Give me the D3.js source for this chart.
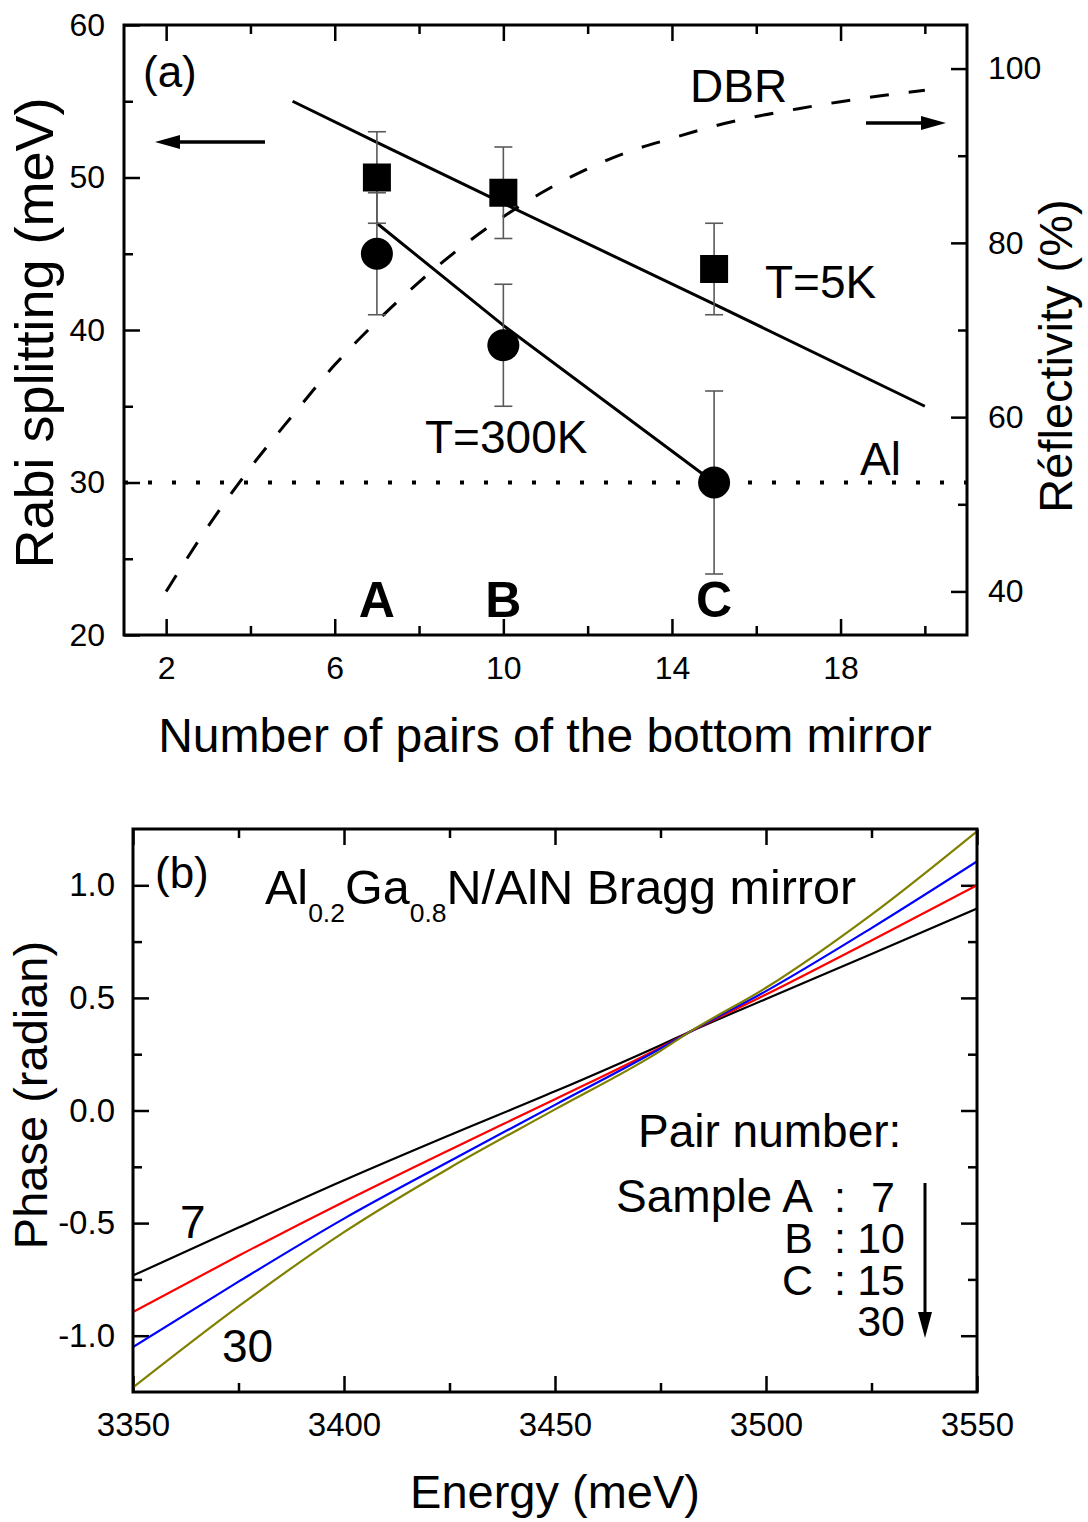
<!DOCTYPE html>
<html><head><meta charset="utf-8">
<script src="https://cdn.jsdelivr.net/npm/d3@7"></script>
<style>
body{margin:0;background:#fff}
svg{display:block}
text{font-family:"Liberation Sans",Arial,Helvetica,sans-serif;fill:#000}
</style>
</head><body>
<svg id="c" width="1088" height="1522"></svg>
<script>
// ---------- Panel (a) data ----------
const pairsTicks = [2, 6, 10, 14, 18];
const pairsMinor = [4, 8, 12, 16, 20];
const rabiTicks = [20, 30, 40, 50, 60];
const rabiMinor = [25, 35, 45, 55];
const reflTicks = [40, 60, 80, 100];
const reflMinor = [50, 70, 90];
const samples = ["A", "B", "C"];
const samplePairs = [7, 10, 15];
const rabi5K = [50, 49, 44];
const rabi5KErr = [3, 3, 3];
const rabi300K = [45, 39, 30];
const rabi300KErr = [4, 4, 6];
const fit5KPairs = [5, 7, 10, 15, 20];
const fit5K = [55, 52.3, 48.3, 41.7, 35];
const fit300KPairs = [7, 10, 15];
const fit300K = [47, 40.3, 30];
const dbrPairs = [2, 3, 4, 5, 6, 7, 8, 9, 10, 11, 12, 13, 14, 15, 16, 17, 18, 19, 20];
const dbrRefl = [40, 47.5, 54.2, 60.2, 66, 71, 75.5, 79.5, 83, 86, 88.5, 90.5, 92, 93.4, 94.5, 95.4, 96.2, 96.9, 97.5];
const alRabi = 30;

// ---------- Panel (b) data ----------
const energyTicks = [3350, 3400, 3450, 3500, 3550];
const energyMinor = [3375, 3425, 3475, 3525];
const phaseTicks = [-1, -0.5, 0, 0.5, 1];
const phaseMinor = [-0.75, -0.25, 0.25, 0.75];
const energy = [3350, 3375, 3400, 3425, 3450, 3475, 3482, 3500, 3525, 3550];
const phase7 = [-0.733, -0.52, -0.31, -0.11, 0.085, 0.29, 0.35, 0.495, 0.695, 0.897];
const phase10 = [-0.895, -0.645, -0.405, -0.175, 0.05, 0.28, 0.35, 0.515, 0.755, 1.0];
const phase15 = [-1.05, -0.76, -0.48, -0.225, 0.025, 0.275, 0.35, 0.53, 0.81, 1.106];
const phase30 = [-1.23, -0.87, -0.54, -0.255, 0.005, 0.265, 0.35, 0.545, 0.87, 1.24];
const pairNumbers = [7, 10, 15, 30];
const phaseColors = ["#000000", "#ff0000", "#0000ff", "#808000"];

const svg = d3.select("#c");

function styleAxis(g, fs) {
  g.select(".domain").remove();
  g.selectAll(".tick line").attr("stroke", "#000").attr("stroke-width", 2.5);
  g.selectAll(".tick text").style("font-size", fs + "px").attr("fill", "#000");
}
function arrowH(x1, x2, y) {
  const dir = Math.sign(x2 - x1);
  svg.append("line").attr("x1", x1).attr("x2", x2 - dir * 18).attr("y1", y).attr("y2", y)
    .attr("stroke", "#000").attr("stroke-width", 3.5);
  svg.append("path").attr("d", `M${x2},${y} L${x2 - dir * 25},${y - 7} L${x2 - dir * 25},${y + 7} Z`).attr("fill", "#000");
}

// =============== Panel (a) ===============
const A = {l: 124, r: 967, t: 25, b: 635};
const xP = d3.scaleLinear().domain([1, 21]).range([A.l, A.r]);
const yR = d3.scaleLinear().domain([20, 60]).range([A.b, A.t]);
const yF = d3.scaleLinear().domain([35, 105]).range([A.b, A.t]);
const MAJ = 16, MIN = 9;
const TFA = 32, TFB = 33;

const ga = svg.append("g");
ga.append("g").attr("transform", `translate(0,${A.b})`)
  .call(d3.axisBottom(xP).tickValues(pairsTicks).tickSize(-MAJ).tickPadding(21).tickFormat(d3.format("d")))
  .call(g => styleAxis(g, TFA));
ga.append("g").attr("transform", `translate(0,${A.b})`)
  .call(d3.axisBottom(xP).tickValues(pairsMinor).tickSize(-MIN).tickFormat(""))
  .call(g => styleAxis(g, TFA));
ga.append("g").attr("transform", `translate(0,${A.t})`)
  .call(d3.axisTop(xP).tickValues(pairsTicks).tickSize(-MAJ).tickFormat(""))
  .call(g => styleAxis(g, TFA));
ga.append("g").attr("transform", `translate(0,${A.t})`)
  .call(d3.axisTop(xP).tickValues(pairsMinor).tickSize(-MIN).tickFormat(""))
  .call(g => styleAxis(g, TFA));
ga.append("g").attr("transform", `translate(${A.l},0)`)
  .call(d3.axisLeft(yR).tickValues(rabiTicks).tickSize(-MAJ).tickPadding(19).tickFormat(d3.format("d")))
  .call(g => styleAxis(g, TFA));
ga.append("g").attr("transform", `translate(${A.l},0)`)
  .call(d3.axisLeft(yR).tickValues(rabiMinor).tickSize(-MIN).tickFormat(""))
  .call(g => styleAxis(g, TFA));
ga.append("g").attr("transform", `translate(${A.r},0)`)
  .call(d3.axisRight(yF).tickValues(reflTicks).tickSize(-MAJ).tickPadding(21).tickFormat(d3.format("d")))
  .call(g => styleAxis(g, TFA));
ga.append("g").attr("transform", `translate(${A.r},0)`)
  .call(d3.axisRight(yF).tickValues(reflMinor).tickSize(-MIN).tickFormat(""))
  .call(g => styleAxis(g, TFA));
ga.append("rect").attr("x", A.l).attr("y", A.t).attr("width", A.r - A.l).attr("height", A.b - A.t)
  .attr("fill", "none").attr("stroke", "#000").attr("stroke-width", 3);

// Al dotted line
ga.append("line").attr("x1", A.l).attr("x2", A.r).attr("y1", yR(alRabi)).attr("y2", yR(alRabi))
  .attr("stroke", "#000").attr("stroke-width", 4).attr("stroke-dasharray", "4 20");

// DBR dashed
ga.append("path").datum(dbrPairs.map((p, i) => [p, dbrRefl[i]]))
  .attr("d", d3.line().x(d => xP(d[0])).y(d => yF(d[1])).curve(d3.curveMonotoneX))
  .attr("fill", "none").attr("stroke", "#000").attr("stroke-width", 3).attr("stroke-dasharray", "19 20");

// fit lines
ga.append("path").datum(fit5KPairs.map((p, i) => [p, fit5K[i]]))
  .attr("d", d3.line().x(d => xP(d[0])).y(d => yR(d[1])))
  .attr("fill", "none").attr("stroke", "#000").attr("stroke-width", 3);
ga.append("path").datum(fit300KPairs.map((p, i) => [p, fit300K[i]]))
  .attr("d", d3.line().x(d => xP(d[0])).y(d => yR(d[1])))
  .attr("fill", "none").attr("stroke", "#000").attr("stroke-width", 3);

// error bars
function errBars(vals, errs) {
  samplePairs.forEach((p, i) => {
    const x = xP(p), lo = yR(vals[i] - errs[i]), hi = yR(vals[i] + errs[i]);
    ga.append("line").attr("x1", x).attr("x2", x).attr("y1", lo).attr("y2", hi).attr("stroke", "#5a5a5a").attr("stroke-width", 1.6);
    [lo, hi].forEach(yy => ga.append("line").attr("x1", x - 9).attr("x2", x + 9).attr("y1", yy).attr("y2", yy).attr("stroke", "#5a5a5a").attr("stroke-width", 1.6));
  });
}
errBars(rabi5K, rabi5KErr);
errBars(rabi300K, rabi300KErr);
samplePairs.forEach((p, i) => {
  ga.append("rect").attr("x", xP(p) - 14).attr("y", yR(rabi5K[i]) - 14).attr("width", 28).attr("height", 28).attr("fill", "#000");
  ga.append("circle").attr("cx", xP(p)).attr("cy", yR(rabi300K[i])).attr("r", 16).attr("fill", "#000");
});

// texts panel a
ga.append("text").attr("x", 143).attr("y", 87).style("font-size", "44px").text("(a)");
ga.append("text").attr("x", 690).attr("y", 102).style("font-size", "46px").text("DBR");
ga.append("text").attr("x", 765).attr("y", 298).style("font-size", "46px").text("T=5K");
ga.append("text").attr("x", 425).attr("y", 453).style("font-size", "46px").text("T=300K");
ga.append("text").attr("x", 860).attr("y", 475).style("font-size", "46px").text("Al");
samples.forEach((s, i) => {
  ga.append("text").attr("x", xP(samplePairs[i])).attr("y", 617).attr("text-anchor", "middle")
    .style("font-size", "50px").style("font-weight", "bold").text(s);
});
arrowH(265, 155, 142);
arrowH(866, 946, 123);

ga.append("text").attr("transform", "translate(53,333) rotate(-90)").attr("text-anchor", "middle")
  .style("font-size", "54px").text("Rabi splitting (meV)");
ga.append("text").attr("transform", "translate(1072,356) rotate(-90)").attr("text-anchor", "middle")
  .style("font-size", "47px").text("Réflectivity (%)");
ga.append("text").attr("x", 545).attr("y", 752).attr("text-anchor", "middle")
  .style("font-size", "48px").text("Number of pairs of the bottom mirror");

// =============== Panel (b) ===============
const B = {l: 133, r: 977, t: 829, b: 1392};
const xE = d3.scaleLinear().domain([3350, 3550]).range([B.l, B.r]);
const yP = d3.scaleLinear().domain([-1.25, 1.25]).range([B.b, B.t]);
const gb = svg.append("g");
const f1 = v => v.toFixed(1);

gb.append("g").attr("transform", `translate(0,${B.b})`)
  .call(d3.axisBottom(xE).tickValues(energyTicks).tickSize(-MAJ).tickPadding(21).tickFormat(d3.format("d")))
  .call(g => styleAxis(g, TFB));
gb.append("g").attr("transform", `translate(0,${B.b})`)
  .call(d3.axisBottom(xE).tickValues(energyMinor).tickSize(-MIN).tickFormat(""))
  .call(g => styleAxis(g, TFB));
gb.append("g").attr("transform", `translate(0,${B.t})`)
  .call(d3.axisTop(xE).tickValues(energyTicks).tickSize(-MAJ).tickFormat(""))
  .call(g => styleAxis(g, TFB));
gb.append("g").attr("transform", `translate(0,${B.t})`)
  .call(d3.axisTop(xE).tickValues(energyMinor).tickSize(-MIN).tickFormat(""))
  .call(g => styleAxis(g, TFB));
gb.append("g").attr("transform", `translate(${B.l},0)`)
  .call(d3.axisLeft(yP).tickValues(phaseTicks).tickSize(-MAJ).tickPadding(18).tickFormat(f1))
  .call(g => styleAxis(g, TFB));
gb.append("g").attr("transform", `translate(${B.l},0)`)
  .call(d3.axisLeft(yP).tickValues(phaseMinor).tickSize(-MIN).tickFormat(""))
  .call(g => styleAxis(g, TFB));
gb.append("g").attr("transform", `translate(${B.r},0)`)
  .call(d3.axisRight(yP).tickValues(phaseTicks).tickSize(-MAJ).tickFormat(""))
  .call(g => styleAxis(g, TFB));
gb.append("g").attr("transform", `translate(${B.r},0)`)
  .call(d3.axisRight(yP).tickValues(phaseMinor).tickSize(-MIN).tickFormat(""))
  .call(g => styleAxis(g, TFB));

const phaseSeries = [phase7, phase10, phase15, phase30];
const clipId = "clipb";
svg.append("defs").append("clipPath").attr("id", clipId).append("rect")
  .attr("x", B.l).attr("y", B.t).attr("width", B.r - B.l).attr("height", B.b - B.t);
phaseSeries.forEach((ser, k) => {
  gb.append("path").datum(energy.map((e, i) => [e, ser[i]]))
    .attr("clip-path", `url(#${clipId})`)
    .attr("d", d3.line().x(d => xE(d[0])).y(d => yP(d[1])).curve(d3.curveMonotoneX))
    .attr("fill", "none").attr("stroke", phaseColors[k]).attr("stroke-width", 2.2);
});
gb.append("rect").attr("x", B.l).attr("y", B.t).attr("width", B.r - B.l).attr("height", B.b - B.t)
  .attr("fill", "none").attr("stroke", "#000").attr("stroke-width", 3);

// texts panel b
gb.append("text").attr("x", 155).attr("y", 888).style("font-size", "44px").text("(b)");
const ttl = gb.append("text").attr("x", 265).attr("y", 904).style("font-size", "48.5px");
ttl.append("tspan").text("Al");
ttl.append("tspan").attr("dy", 18).style("font-size", "26.5px").text("0.2");
ttl.append("tspan").attr("dy", -18).text("Ga");
ttl.append("tspan").attr("dy", 18).style("font-size", "26.5px").text("0.8");
ttl.append("tspan").attr("dy", -18).text("N/AlN Bragg mirror");

gb.append("text").attr("x", 180).attr("y", 1238).style("font-size", "46px").text(pairNumbers[0]);
gb.append("text").attr("x", 222).attr("y", 1362).style("font-size", "46px").text(pairNumbers[3]);

gb.append("text").attr("x", 638).attr("y", 1147).style("font-size", "46px").text("Pair number:");
const LF = 43;
const legRows = [["Sample A", 1212, 895], ["B", 1253, 905], ["C", 1295, 905], ["", 1336, 905]];
legRows.forEach((r, i) => {
  if (r[0]) {
    gb.append("text").attr("x", 813).attr("y", r[1]).attr("text-anchor", "end").style("font-size", (i === 0 ? 46 : LF) + "px").text(r[0]);
    gb.append("text").attr("x", 840).attr("y", r[1]).attr("text-anchor", "middle").style("font-size", LF + "px").text(":");
  }
  gb.append("text").attr("x", r[2]).attr("y", r[1]).attr("text-anchor", "end").style("font-size", LF + "px").text(pairNumbers[i]);
});
gb.append("line").attr("x1", 925).attr("x2", 925).attr("y1", 1183).attr("y2", 1318).attr("stroke", "#000").attr("stroke-width", 3);
gb.append("path").attr("d", "M925,1338 L918,1312 L932,1312 Z").attr("fill", "#000");

gb.append("text").attr("transform", "translate(47,1095) rotate(-90)").attr("text-anchor", "middle")
  .style("font-size", "47px").text("Phase (radian)");
gb.append("text").attr("x", 555).attr("y", 1508).attr("text-anchor", "middle")
  .style("font-size", "47px").text("Energy (meV)");
</script>
</body></html>
